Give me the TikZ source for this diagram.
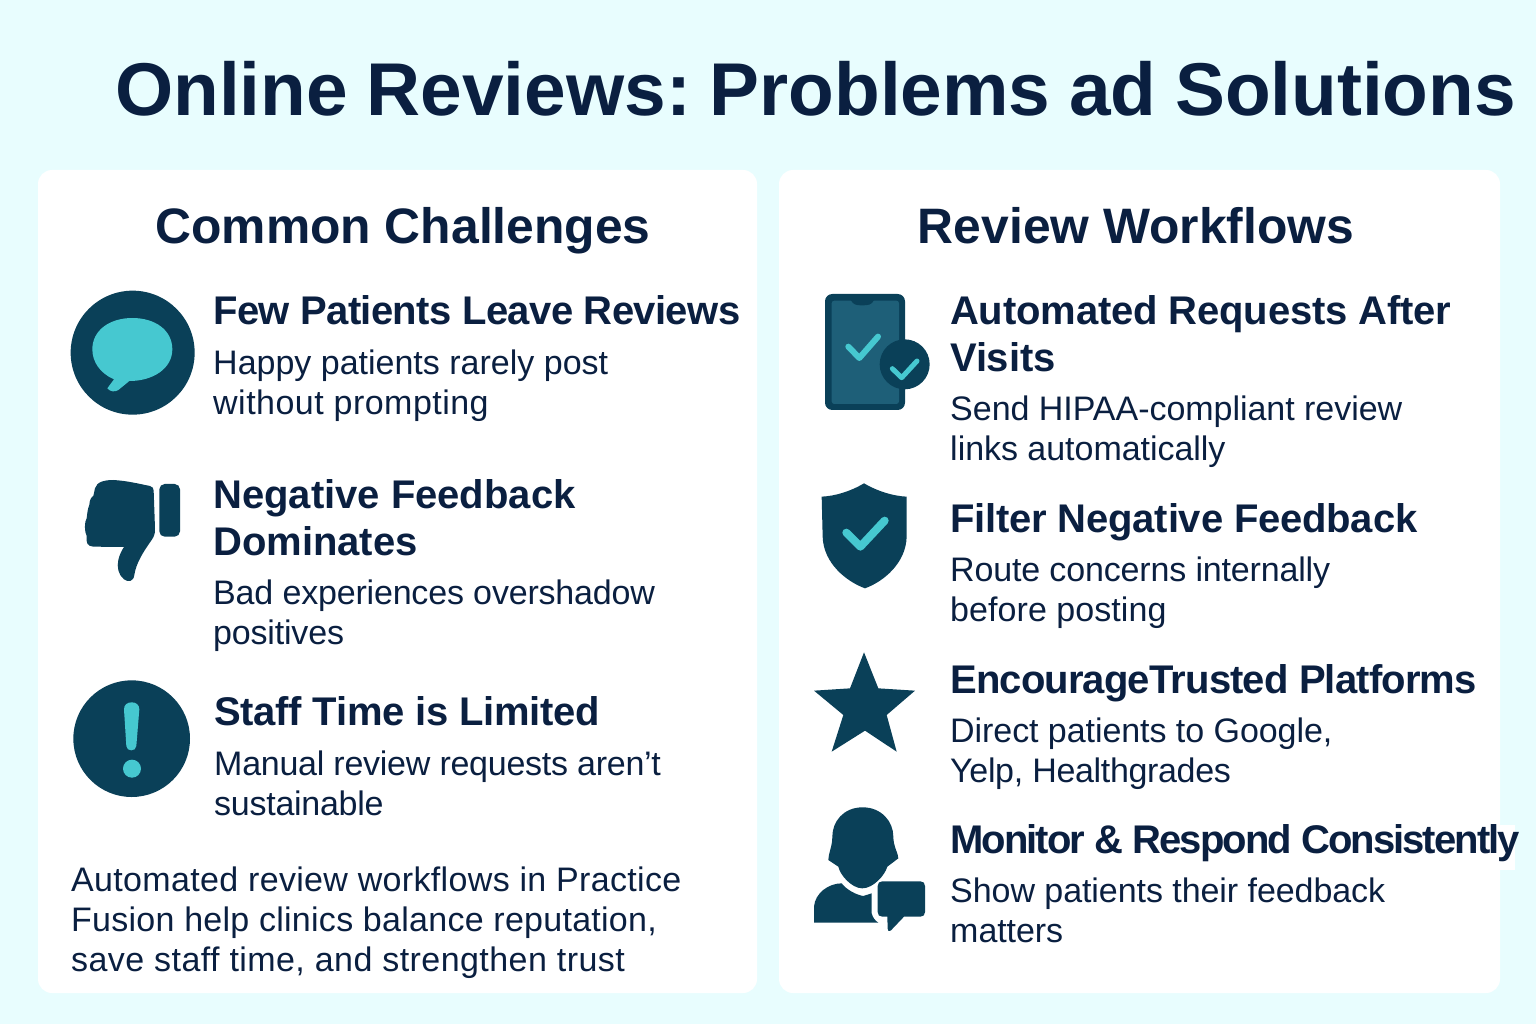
\documentclass[tikz,border=0pt]{standalone}
\usepackage{fontspec}
\setmainfont{Liberation Sans}
\newfontfamily\titlefont[WordSpace=0.9]{Liberation Sans}
\newcommand*{\pagew}{1536}
\newcommand*{\pageh}{1024}
\newcommand*{\fitline}[2]{{\addfontfeature{LetterSpace=#1}#2}}
\definecolor{pagebg}{HTML}{E8FDFE}
\definecolor{inkdark}{HTML}{0A1F40}
\definecolor{icondark}{HTML}{0A4058}
\definecolor{iconscreen}{HTML}{1E5F78}
\definecolor{iconcyan}{HTML}{46C8D0}
\tikzset{
    card/.style     = {fill=white, draw=none, rounded corners=14pt},
    pagetitle/.style= {anchor=base west, inner sep=0pt, text=inkdark, font=\fontsize{74.8}{80}\selectfont\titlefont\bfseries\frenchspacing},
    cardhead/.style = {anchor=base, inner sep=0pt, text=inkdark, font=\fontsize{49.8}{54}\selectfont\bfseries},
    itemhead/.style = {anchor=base west, inner sep=0pt, align=left, text=inkdark, font=\fontsize{40}{46.5}\selectfont\bfseries\addfontfeature{LetterSpace=#1}},
    itemhead/.default = 0,
    itembody/.style = {anchor=base west, inner sep=0pt, align=left, text=inkdark, font=\fontsize{34}{40}\selectfont\addfontfeature{LetterSpace=#1}},
    itembody/.default = 0,
    icon/.style     = {fill=icondark, draw=none},
    tick/.style     = {draw=iconcyan, line cap=round, line join=round}
}
\begin{document}
\begin{tikzpicture}[x=1pt,y=-1pt]
    \useasboundingbox (0,0) rectangle (\pagew,\pageh);
    \fill [pagebg] (0,0) rectangle (\pagew,\pageh);
    \fill [card] (38,170) rectangle (757,993);
    \fill [card] (779,170) rectangle (1500,993);
    \fill [white] (1498,825) rectangle (1515,870);

    \node [pagetitle] (title) at (115,116) {Online Reviews: Problems ad Solutions};
    \node [cardhead] (headleft) at (403,244) {Common Challenges};
    \node [cardhead] (headright) at (1136,244) {Review Workflows};

    % left column
    \node [itemhead=-1.5] (fewhead) at (213,324) {Few Patients Leave Reviews};
    \node [itembody] (fewbody) at (213,414) {Happy patients rarely post\\\fitline{1.4}{without prompting}};
    \node [itemhead] (neghead) at (213,555) {Negative Feedback\\Dominates};
    \node [itembody=-0.55] (negbody) at (213,644) {Bad experiences overshadow\\positives};
    \node [itemhead=-0.7] (staffhead) at (214,725) {Staff Time is Limited};
    \node [itembody=-0.8] (staffbody) at (214,815) {Manual review requests aren’t\\sustainable};
    \node [itembody=1] (closing) at (71,971) {Automated review workflows in Practice\\\fitline{0.8}{Fusion help clinics balance reputation,}\\\fitline{1.3}{save staff time, and strengthen trust}};

    % right column
    \node [itemhead=-0.4] (autohead) at (950,371) {Automated Requests After\\Visits};
    \node [itembody=-0.1] (autobody) at (950,460) {Send HIPAA-compliant review\\links automatically};
    \node [itemhead=-0.5] (filthead) at (950,532) {Filter Negative Feedback};
    \node [itembody=-0.5] (filtbody) at (950,621) {Route concerns internally\\\fitline{0.2}{before posting}};
    \node [itemhead=-2.1] (enchead) at (950,693) {EncourageTrusted Platforms};
    \node [itembody=-0.2] (encbody) at (950,782) {Direct patients to Google,\\\fitline{-1}{Yelp, Healthgrades}};
    \node [itemhead=-4.85] (monhead) at (950,853) {Monitor \& Respond Consistently};
    \node [itembody=-0.2] (monbody) at (950,942) {Show patients their feedback\\matters};

    % speech bubble icon
    \begin{scope}[shift={(50,280)},scale=1/3]
        \fill [icon] (248,218) circle (186);
        \fill [iconcyan] (127,208) .. controls (127,150) and (180,114) .. (247,114)
            .. controls (315,114) and (367,150) .. (367,208)
            .. controls (367,265) and (310,303) .. (238,303)
            -- (205,330) .. controls (195,337) and (180,335) .. (172,325)
            -- (192,298) .. controls (150,280) and (127,245) .. (127,208) -- cycle;
    \end{scope}

    % thumb icon
    \begin{scope}[shift={(50,280)},scale=1/3]
        \fill [icon] (135,625) .. controls (140,605) and (165,600) .. (190,600)
            .. controls (230,602) and (270,612) .. (300,618)
            .. controls (308,620) and (311,625) .. (311,632)
            -- (315,745) .. controls (316,760) and (312,770) .. (305,780)
            .. controls (280,815) and (258,850) .. (253,885)
            .. controls (250,905) and (235,908) .. (222,898)
            .. controls (205,885) and (200,860) .. (205,840)
            .. controls (208,825) and (215,812) .. (222,801)
            -- (130,800) .. controls (112,798) and (108,790) .. (110,768)
            .. controls (103,755) and (103,725) .. (110,715)
            .. controls (112,700) and (113,685) .. (118,675)
            .. controls (118,660) and (125,650) .. (130,648) -- cycle;
        \fill [icon, rounded corners=16pt/3] (328,612) rectangle (390,770);
    \end{scope}

    % alert icon
    \begin{scope}[shift={(60,670)},scale=1/3]
        \fill [icon] (215,206) circle (175);
        \fill [iconcyan] (192,118) .. controls (192,104) and (202,97) .. (215,97)
            .. controls (228,97) and (238,104) .. (238,118)
            -- (229,228) .. controls (228,237) and (222,241) .. (214,241)
            .. controls (206,241) and (200,237) .. (199,228) -- cycle;
        \fill [iconcyan] (216,296) circle (27);
    \end{scope}

    % phone icon
    \begin{scope}[shift={(800,280)},scale=1/3]
        \fill [icon, rounded corners=22pt/3] (75,42) rectangle (315,390);
        \fill [iconscreen, rounded corners=8pt/3] (95,62) rectangle (297,372);
        \fill [icon] (152,60) .. controls (160,75) and (170,76) .. (186,76)
            .. controls (205,76) and (215,75) .. (222,60) -- cycle;
        \draw [tick, line width=18pt/3] (145,200) -- (178,234) -- (234,170);
        \fill [icon] (314,253) circle (75);
        \draw [tick, line width=15pt/3] (277,266) -- (305,293) -- (351,243);
    \end{scope}

    % shield icon
    \begin{scope}[shift={(800,280)},scale=1/3]
        \fill [icon] (192,610) .. controls (150,635) and (105,648) .. (65,650)
            -- (68,770) .. controls (70,850) and (140,905) .. (195,925)
            .. controls (250,905) and (318,850) .. (320,770)
            -- (320,650) .. controls (280,648) and (235,635) .. (192,610) -- cycle;
        \draw [tick, line width=24pt/3] (139,758) -- (181,800) -- (254,722);
    \end{scope}

    % star icon
    \begin{scope}[shift={(800,640)},scale=1/3]
        \fill [icon] (192,37) -- (235,145) -- (345,152) -- (260,225) -- (290,335)
            -- (195,272) -- (95,335) -- (130,225) -- (42,152) -- (150,145) -- cycle;
    \end{scope}

    % person icon
    \begin{scope}[shift={(800,640)},scale=1/3]
        \fill [icon] (188,502) .. controls (130,502) and (97,545) .. (97,590)
            .. controls (97,620) and (85,640) .. (85,660)
            -- (115,680) .. controls (120,705) and (155,745) .. (187,745)
            .. controls (220,745) and (255,705) .. (262,680)
            -- (295,655) .. controls (295,640) and (280,620) .. (280,590)
            .. controls (280,545) and (245,502) .. (188,502) -- cycle;
        \fill [icon] (42,848) -- (42,800) .. controls (45,760) and (85,730) .. (125,730)
            .. controls (140,750) and (170,765) .. (190,768)
            -- (215,760) -- (215,820) .. controls (218,832) and (225,842) .. (235,848) -- cycle;
        \fill [icon] (247,724) -- (361,724) .. controls (370,724) and (375,729) .. (375,738)
            -- (375,816) .. controls (375,825) and (370,830) .. (361,830)
            -- (312,830) -- (272,872) .. controls (266,876) and (263,872) .. (263,866)
            -- (262,830) -- (247,830) .. controls (238,830) and (233,825) .. (233,816)
            -- (233,738) .. controls (233,729) and (238,724) .. (247,724) -- cycle;
    \end{scope}
\end{tikzpicture}
\end{document}
